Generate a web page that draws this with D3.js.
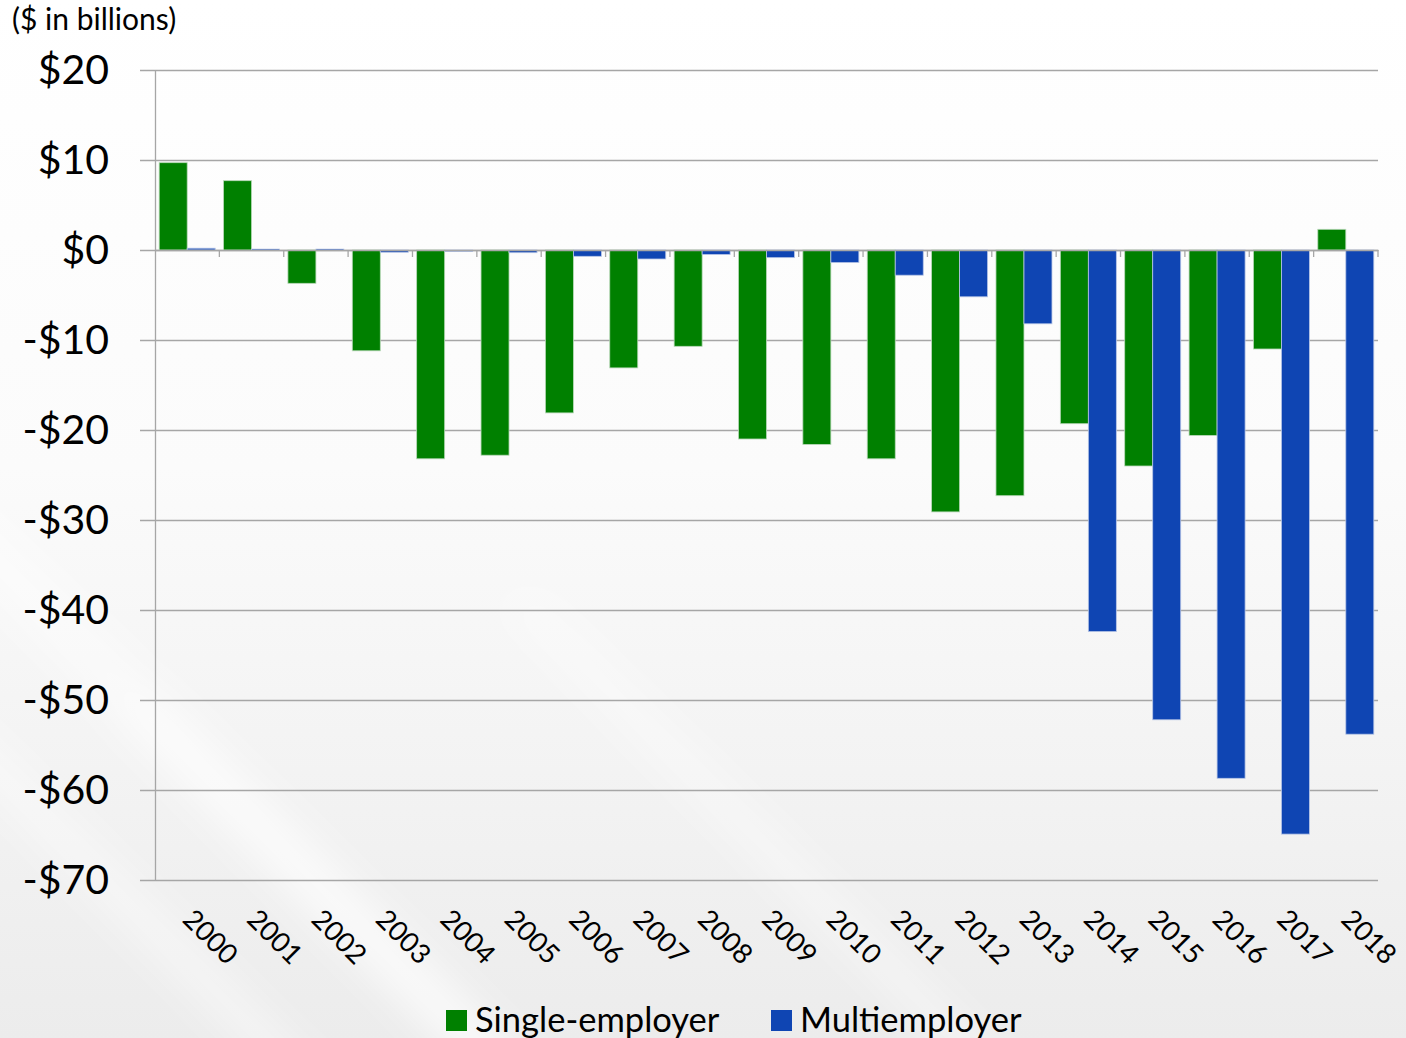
<!DOCTYPE html>
<html>
<head>
<meta charset="utf-8">
<script src="https://cdn.jsdelivr.net/npm/d3@7"></script>
<style>
  html, body { margin: 0; padding: 0; background: #fff; }
  svg { display: block; }
  text { font-family: Lato, "Open Sans", sans-serif; fill: #000; }
</style>
</head>
<body>
<svg id="chart" width="1406" height="1038"></svg>
<script>
const years = ["2000","2001","2002","2003","2004","2005","2006","2007","2008","2009",
               "2010","2011","2012","2013","2014","2015","2016","2017","2018"];
const singleEmployer = [9.7, 7.7, -3.7, -11.2, -23.2, -22.8, -18.1, -13.1, -10.7, -21.0,
                        -21.6, -23.2, -29.1, -27.3, -19.3, -24.0, -20.6, -11.0, 2.3];
const multiemployer = [0.2, 0.1, 0.1, -0.25, -0.1, -0.3, -0.7, -1.0, -0.5, -0.85,
                       -1.4, -2.8, -5.2, -8.2, -42.4, -52.2, -58.7, -64.9, -53.8];
const yTicks = [20, 10, 0, -10, -20, -30, -40, -50, -60, -70];
const seriesNames = ["Single-employer", "Multiemployer"];
const seriesColors = ["#008000", "#0F45B3"];
const unitLabel = "($ in billions)";

(function () {
const svg = d3.select("#chart");
const W = 1406, H = 1038;
const mLeft = 155, mRight = 1378, mTop = 70, mBottom = 880;

// background
const defs = svg.append("defs");
const bg = defs.append("linearGradient").attr("id","bg").attr("x1","0").attr("y1","0").attr("x2","0").attr("y2","1");
bg.append("stop").attr("offset","0").attr("stop-color","#ffffff");
bg.append("stop").attr("offset","0.45").attr("stop-color","#fbfbfb");
bg.append("stop").attr("offset","1").attr("stop-color","#ececec");
defs.append("filter").attr("id","blur").append("feGaussianBlur").attr("stdDeviation", 18);
svg.append("rect").attr("width",W).attr("height",H).attr("fill","url(#bg)");
const stripes = [[-300,300,70],[-200,600,50],[100,700,60],[500,600,40]];
const sg = svg.append("g").attr("filter","url(#blur)");
stripes.forEach(s => {
  sg.append("polygon")
    .attr("points", `${s[0]},${s[1]} ${s[0]+800},${s[1]+800} ${s[0]+800+s[2]},${s[1]+800} ${s[0]+s[2]},${s[1]}`)
    .attr("fill","#ffffff").attr("opacity",0.45);
});

const x = d3.scaleBand().domain(years).range([mLeft, mRight]).padding(0);
const y = d3.scaleLinear().domain([-70, 20]).range([mBottom, mTop]);
const step = x.step();
const barW = step * 0.435;
const off = step * 0.065;

// gridlines
svg.append("g")
  .attr("transform", `translate(140,0)`)
  .call(d3.axisRight(y).tickValues(yTicks).tickSize(mRight - 140).tickFormat(""))
  .call(g => g.select(".domain").remove())
  .call(g => g.selectAll("line").attr("stroke","#a6a6a6").attr("stroke-width",1.3));

// y labels
const fmt = v => v < 0 ? "-$" + Math.abs(v) : "$" + v;
svg.append("g")
  .attr("transform", `translate(${mLeft},0)`)
  .call(d3.axisLeft(y).tickValues(yTicks).tickSize(0).tickPadding(46).tickFormat(fmt))
  .call(g => g.select(".domain").attr("stroke","#a6a6a6").attr("stroke-width",1.3))
  .call(g => g.selectAll("text").attr("font-size",41).attr("font-family","Lato, sans-serif").attr("fill","#000"));

// bars
const data = years.map((yr,i) => ({yr, s: singleEmployer[i], m: multiemployer[i]}));
const bars = svg.append("g");
bars.selectAll("rect.s").data(data).join("rect")
  .attr("class","s")
  .attr("x", d => x(d.yr) + off)
  .attr("width", barW)
  .attr("y", d => y(Math.max(0, d.s)))
  .attr("height", d => Math.abs(y(d.s) - y(0)))
  .attr("fill", seriesColors[0])
  .attr("stroke", "#b8d8b8").attr("stroke-width", 0.8);
bars.selectAll("rect.m").data(data).join("rect")
  .attr("class","m")
  .attr("x", d => x(d.yr) + off + barW)
  .attr("width", barW)
  .attr("y", d => y(Math.max(0, d.m)))
  .attr("height", d => Math.max(1.5, Math.abs(y(d.m) - y(0))))
  .attr("fill", seriesColors[1])
  .attr("stroke", "#b8c6e6").attr("stroke-width", 0.8);

// zero axis line with tick marks
svg.append("g")
  .attr("transform", `translate(0,${y(0)})`)
  .call(d3.axisBottom(x).tickSize(0).tickFormat(""))
  .call(g => g.select(".domain").attr("stroke","#a6a6a6").attr("stroke-width",1.5));
svg.append("g").selectAll("line").data(years.slice(1).concat(["end"])).join("line")
  .attr("x1", d => d === "end" ? mRight : x(d))
  .attr("x2", d => d === "end" ? mRight : x(d))
  .attr("y1", y(0)).attr("y2", y(0) + 7)
  .attr("stroke","#a6a6a6").attr("stroke-width",1.3);

// x labels
svg.append("g").selectAll("text").data(years).join("text")
  .attr("transform", d => `translate(${x(d) + step/2 - 6},${921}) rotate(45)`)
  .attr("font-size", 27.5)
  .attr("text-anchor","start")
  .text(d => d);

// unit label
svg.append("text").attr("x", 12).attr("y", 30).attr("font-size", 30).text(unitLabel);

// legend
const leg = svg.append("g");
const legX = [446, 771];
seriesNames.forEach((n,i) => {
  leg.append("rect").attr("x", legX[i]).attr("y", 1010).attr("width", 21).attr("height", 21).attr("fill", seriesColors[i]);
  leg.append("text").attr("x", legX[i] + 29).attr("y", 1032).attr("font-size", 34.5).text(n);
});
})();
</script>
</body>
</html>
